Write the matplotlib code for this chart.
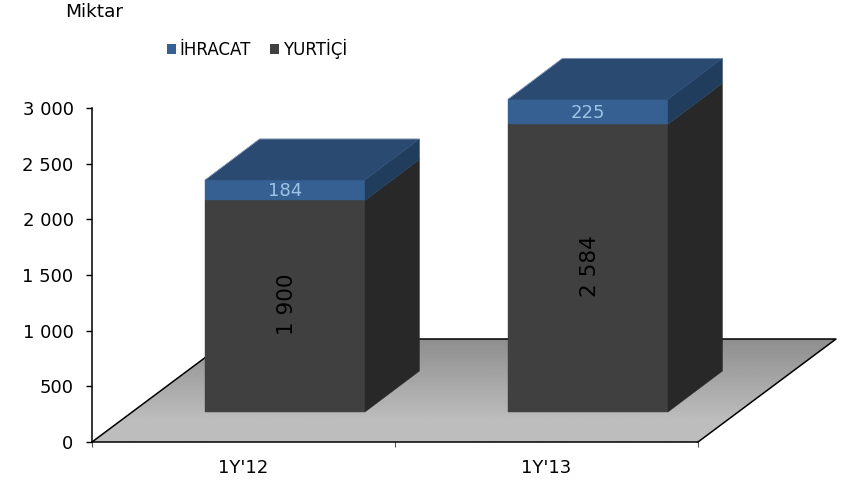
import numpy as np
import matplotlib
matplotlib.use('Agg')
import matplotlib.pyplot as plt
from matplotlib.patches import Polygon, Patch

plt.rcParams['font.family'] = ['DejaVu Sans']

categories = ["1Y'12", "1Y'13"]
yurtici = [1900, 2584]
ihracat = [184, 225]
yticks = [0, 500, 1000, 1500, 2000, 2500, 3000]
ytick_labels = ['0', '500', '1 000', '1 500', '2 000', '2 500', '3 000']

# axes box in pixels
L, R, B, T = 92, 698, 442, 108
W_PX, H_PX = 842, 480
px_x = 2 / (R - L)      # data units per pixel
px_y = 3000 / (B - T)

# 3d look: floor depth and bar depth in pixels
floor_dx, floor_dy = 138 * px_x, 103 * px_y
bar_dx, bar_dy = 54.5 * px_x, 41 * px_y
base_dx, base_dy = 41.5 * px_x, 30 * px_y
bar_w = 160 * px_x

c_front = '#404040'
c_side = '#282828'
c_blue = '#366092'
c_blue_top = '#2b4a72'
c_blue_side = '#203d5d'
c_label = '#9dc3e6'
c_edge = '#9fb3cc'

fig = plt.figure(figsize=(W_PX / 100, H_PX / 100), dpi=100)
ax = fig.add_axes([L / W_PX, 1 - B / H_PX, (R - L) / W_PX, (B - T) / H_PX])

# floor with gradient, flat near the front edge
floor_pts = [(0, 0), (2, 0), (2 + floor_dx, floor_dy), (floor_dx, floor_dy)]
floor = Polygon(floor_pts, closed=True, fc='none', ec='none', zorder=1, clip_on=False)
ax.add_patch(floor)
grad = np.clip(np.linspace(0.79, 0.56, 64), 0.56, 0.74).reshape(-1, 1)
im = ax.imshow(grad, extent=[0, 2 + floor_dx, 0, floor_dy], origin='lower', cmap='gray',
               vmin=0, vmax=1, aspect='auto', zorder=1)
im.set_clip_box(fig.bbox)
im.set_clip_path(floor)
ax.plot([0, floor_dx, 2 + floor_dx, 2], [0, floor_dy, floor_dy, 0], color='black', lw=1.1,
        zorder=2, clip_on=False)


def face(pts, color):
    ax.add_patch(Polygon(pts, fc=color, ec=color, lw=0.3, zorder=3, clip_on=False))


def box(x0, x1, y0, y1, front, side):
    face([(x0, y0), (x1, y0), (x1, y1), (x0, y1)], front)
    face([(x1, y0), (x1 + bar_dx, y0 + bar_dy), (x1 + bar_dx, y1 + bar_dy), (x1, y1)], side)


for i in range(len(categories)):
    x0 = i + 0.5 + base_dx - bar_w / 2
    x1 = x0 + bar_w
    y0 = base_dy
    y1 = y0 + yurtici[i]
    y2 = y1 + ihracat[i]
    box(x0, x1, y0, y1, c_front, c_side)
    box(x0, x1, y1, y2, c_blue, c_blue_side)
    face([(x0, y2), (x1, y2), (x1 + bar_dx, y2 + bar_dy), (x0 + bar_dx, y2 + bar_dy)], c_blue_top)
    # thin light rim on the outer top edges
    ax.plot([x0, x0 + bar_dx, x1 + bar_dx], [y2, y2 + bar_dy, y2 + bar_dy], color=c_edge, lw=0.5,
            zorder=3, clip_on=False)
    ax.text((x0 + x1) / 2 + 2 * px_x, (y0 + y1) / 2 + 15, f'{yurtici[i]:,}'.replace(',', ' '), rotation=90,
            ha='center', va='center', fontsize=15.5, color='black', zorder=4)
    ax.text((x0 + x1) / 2, (y1 + y2) / 2 - 1 * px_y, str(ihracat[i]), ha='center', va='center',
            fontsize=13, color=c_label, zorder=4)

ax.set_xlim(0, 2)
ax.set_ylim(0, 3000)
ax.spines['top'].set_visible(False)
ax.spines['right'].set_visible(False)
ax.spines['left'].set_linewidth(1.1)
ax.spines['bottom'].set_linewidth(1.1)
ax.set_yticks(yticks)
ax.set_yticklabels(ytick_labels, fontsize=13)
ax.tick_params(axis='y', length=4.3, width=1, pad=9)
ax.set_xticks([0, 1, 2])
ax.set_xticklabels([])
ax.tick_params(axis='x', which='major', length=3.5, width=0.8, color='#555555')
ax.set_xticks([0.5, 1.5], minor=True)
ax.set_xticklabels(categories, minor=True, fontsize=13)
ax.tick_params(axis='x', which='minor', length=0, pad=12)

fig.text(65 / W_PX, 1 - 12 / H_PX, 'Miktar', fontsize=13.3, va='center', ha='left')

handles = [Patch(fc=c_blue, ec='none', label='İHRACAT'), Patch(fc=c_front, ec='none', label='YURTİÇİ')]
fig.legend(handles=handles, loc='center left', bbox_to_anchor=(167 / W_PX, 1 - 49 / H_PX), ncol=2,
           frameon=False, fontsize=12, handlelength=0.54, handleheight=0.54, handletextpad=0.22,
           columnspacing=1.15, borderaxespad=0, borderpad=0)

fig.savefig('out.png', dpi=100)
